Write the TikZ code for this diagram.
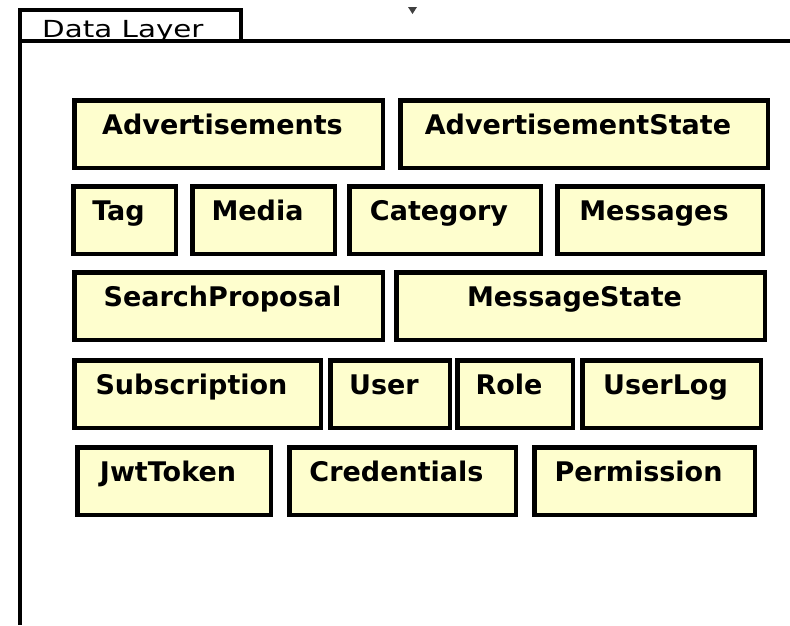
\documentclass[tikz,border=0pt]{standalone}
\usepackage{fontspec}
\setmainfont{DejaVu Sans}
\newfontfamily\layerfamily[FakeStretch=1.25]{DejaVu Sans}
\usepackage{tikz}
\usetikzlibrary{positioning}

\definecolor{entityfill}{HTML}{FEFECE}
\newcommand{\entityfont}{\fontsize{27}{30}\selectfont\bfseries}
\newcommand{\layerfont}{\layerfamily\fontsize{23.5}{28}\selectfont}

\begin{document}
\begin{tikzpicture}[
    x=1pt, y=-1pt,
    entity/.style={rectangle, draw, line width=4.5pt, fill=entityfill, font=\entityfont, inner sep=0pt, text height=20pt, text depth=20pt, minimum height=67.5pt, text centered, execute at begin node={\hspace*{-12pt}}},
    frame/.style={draw, line width=4pt},
    node distance=12pt
]
\useasboundingbox (0,0) rectangle (790,625);

% Package frame
\draw[frame] (20,10) rectangle (240.5,41);
\node[anchor=base west, font=\layerfont, inner sep=0pt] (layer) at (42,37) {Data Layer};
\draw[frame] (20,41) -- (790,41);
\draw[frame] (20,41) -- (20,625);
\fill[black!75] (408,7) -- (417,7) -- (412.5,14) -- cycle;

% Row 1
\node[entity, anchor=north west, minimum width=308.5pt] (adv) at (72,98) {Advertisements};
\node[entity, right=13pt of adv, minimum width=367.5pt] (advstate) {AdvertisementState};

% Row 2
\node[entity, anchor=north west, minimum width=102.5pt] (tag) at (71,184) {Tag};
\node[entity, right=12pt of tag, minimum width=142.5pt] (media) {Media};
\node[entity, right=10pt of media, minimum width=191.5pt] (category) {Category};
\node[entity, right=12pt of category, minimum width=205.5pt] (messages) {Messages};

% Row 3
\node[entity, anchor=north west, minimum width=308.5pt] (search) at (72,270) {SearchProposal};
\node[entity, right=9pt of search, minimum width=368.5pt] (msgstate) {MessageState};

% Row 4
\node[entity, anchor=north west, minimum width=246.5pt] (subscription) at (72,358) {Subscription};
\node[entity, right=5pt of subscription, minimum width=119.5pt] (user) {User};
\node[entity, right=3pt of user, minimum width=115.5pt] (role) {Role};
\node[entity, right=5pt of role, minimum width=178.5pt] (userlog) {UserLog};

% Row 5
\node[entity, anchor=north west, minimum width=193.5pt] (jwt) at (75,445) {JwtToken};
\node[entity, right=14pt of jwt, minimum width=226.5pt] (credentials) {Credentials};
\node[entity, right=14pt of credentials, minimum width=220.5pt] (permission) {Permission};
\end{tikzpicture}
\end{document}
